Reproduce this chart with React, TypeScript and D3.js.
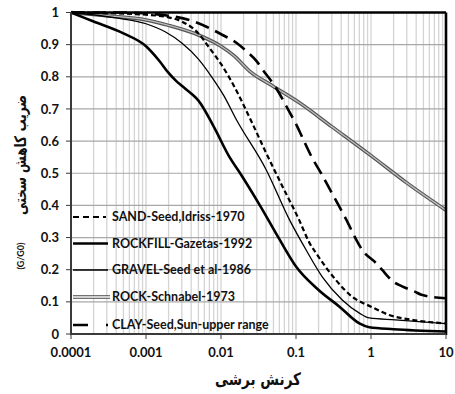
import React from "react";
import * as d3 from "d3";

// Shear modulus reduction curves (G/G0 vs shear strain %)
const sandStrain = [0.0001, 0.0003, 0.001, 0.002, 0.003, 0.005, 0.007, 0.01, 0.015, 0.025, 0.04, 0.066, 0.11, 0.15, 0.2, 0.34, 0.56, 1, 1.75, 3.5, 10];
const sandG = [1.0, 0.998, 0.993, 0.985, 0.972, 0.935, 0.89, 0.84, 0.77, 0.665, 0.563, 0.459, 0.355, 0.285, 0.24, 0.168, 0.116, 0.085, 0.059, 0.044, 0.033];

const rockfillStrain = [0.0001, 0.0002, 0.0005, 0.001, 0.0015, 0.002, 0.0025, 0.003, 0.004, 0.005, 0.008, 0.013, 0.018, 0.033, 0.06, 0.1, 0.2, 0.38, 0.7, 0.95, 2, 10];
const rockfillG = [1.0, 0.972, 0.935, 0.895, 0.85, 0.812, 0.788, 0.772, 0.748, 0.726, 0.645, 0.55, 0.5, 0.4, 0.295, 0.21, 0.137, 0.085, 0.033, 0.021, 0.015, 0.008];

const gravelStrain = [0.0001, 0.0004, 0.001, 0.0018, 0.003, 0.005, 0.0075, 0.011, 0.016, 0.04, 0.082, 0.136, 0.224, 0.414, 0.7, 0.95, 2.1, 10];
const gravelG = [1.0, 0.983, 0.965, 0.94, 0.905, 0.855, 0.8, 0.74, 0.667, 0.511, 0.355, 0.262, 0.178, 0.106, 0.065, 0.05, 0.044, 0.032];

const rockStrain = [0.0001, 0.0003, 0.001, 0.002, 0.005, 0.01, 0.015, 0.024, 0.05, 0.11, 0.3, 1, 3, 10];
const rockG = [1.0, 0.99, 0.977, 0.96, 0.93, 0.895, 0.865, 0.818, 0.77, 0.72, 0.645, 0.555, 0.47, 0.385];

const clayStrain = [0.0001, 0.0005, 0.001, 0.002, 0.004, 0.0065, 0.0105, 0.016, 0.022, 0.03, 0.036, 0.054, 0.082, 0.104, 0.12, 0.164, 0.216, 0.32, 0.47, 0.63, 0.76, 1.16, 1.4, 2.0, 2.6, 3.9, 4.7, 10];
const clayG = [1.0, 1.0, 0.997, 0.99, 0.975, 0.955, 0.93, 0.906, 0.879, 0.848, 0.822, 0.766, 0.69, 0.645, 0.614, 0.548, 0.5, 0.427, 0.355, 0.295, 0.262, 0.221, 0.2, 0.162, 0.148, 0.131, 0.122, 0.111];

const xTicks = [0.0001, 0.001, 0.01, 0.1, 1, 10];
const xTickLabels = ["0.0001", "0.001", "0.01", "0.1", "1", "10"];
const yTicks = [0, 0.1, 0.2, 0.3, 0.4, 0.5, 0.6, 0.7, 0.8, 0.9, 1];
const yTickLabels = ["0", "0.1", "0.2", "0.3", "0.4", "0.5", "0.6", "0.7", "0.8", "0.9", "1"];

const legendLabels = [
  "SAND-Seed,Idriss-1970",
  "ROCKFILL-Gazetas-1992",
  "GRAVEL-Seed et al-1986",
  "ROCK-Schnabel-1973",
  "CLAY-Seed,Sun-upper range",
];

const yTitle = "ضریب کاهش سختی";
const yUnit = "(G/G0)";
const xTitle = "کرنش برشی";

const W = 455;
const H = 394;
const left = 71;
const right = 446;
const top = 12.5;
const bottom = 334;
const font = "Lato, 'Open Sans', sans-serif";
const arabicFont = "'DejaVu Sans', sans-serif";

// widths the Persian titles are fitted to
const xTitleLen = 86;
const yTitleLen = 120;

export default function App() {
  const x = d3.scaleLog().domain([0.0001, 10]).range([left, right]);
  const y = d3.scaleLinear().domain([0, 1]).range([bottom, top]);

  const line = (xs: number[], ys: number[]) =>
    d3
      .line<number>()
      .x((_, i) => x(xs[i]))
      .y((d) => y(d))
      .curve(d3.curveMonotoneX)(ys) as string;

  // minor grid: 1..9 within each decade
  const minor: number[] = [];
  for (let e = -4; e < 1; e++) {
    for (let k = 1; k <= 9; k++) minor.push(k * Math.pow(10, e));
  }
  minor.push(10);

  const legendY = [217, 243.5, 270, 297, 325];
  const lx0 = 73;
  const lx1 = 106;

  return (
    <svg width={W} height={H} style={{ position: "absolute", left: 0, top: 0 }}>
      <rect x={0} y={0} width={W} height={H} fill="#fff" />
      {/* vertical grid */}
      {minor.map((v, i) => (
        <line key={"v" + i} x1={x(v)} x2={x(v)} y1={top} y2={bottom} stroke="#d4d4d4" strokeWidth={1.3} />
      ))}
      {/* horizontal grid */}
      {yTicks.map((v, i) => (
        <line key={"h" + i} x1={left} x2={right} y1={y(v)} y2={y(v)} stroke="#a8a8a8" strokeWidth={1.2} />
      ))}

      {/* curves */}
      <path d={line(rockStrain, rockG)} fill="none" stroke="#555" strokeWidth={3.6} />
      <path d={line(rockStrain, rockG)} fill="none" stroke="#bdbdbd" strokeWidth={1.3} />
      <path d={line(clayStrain, clayG)} fill="none" stroke="#000" strokeWidth={2.6} strokeDasharray="14 7" />
      <path d={line(sandStrain, sandG)} fill="none" stroke="#000" strokeWidth={2.2} strokeDasharray="5 3" />
      <path d={line(gravelStrain, gravelG)} fill="none" stroke="#000" strokeWidth={1.3} />
      <path d={line(rockfillStrain, rockfillG)} fill="none" stroke="#000" strokeWidth={2.6} />

      {/* frame */}
      <line x1={left} x2={right} y1={top} y2={top} stroke="#000" strokeWidth={2.4} />
      <line x1={right} x2={right} y1={top} y2={bottom + 1} stroke="#000" strokeWidth={2.6} />
      <line x1={left - 1} x2={right} y1={bottom} y2={bottom} stroke="#3a3a3a" strokeWidth={2} />
      <line x1={left} x2={left} y1={top} y2={bottom + 1} stroke="#3a3a3a" strokeWidth={2} />

      {/* ticks */}
      {yTicks.map((v, i) => (
        <line key={"yt" + i} x1={left - 5} x2={left} y1={y(v)} y2={y(v)} stroke="#3a3a3a" strokeWidth={1} />
      ))}
      {xTicks.map((v, i) => (
        <line key={"xt" + i} x1={x(v)} x2={x(v)} y1={bottom} y2={bottom + 5} stroke="#3a3a3a" strokeWidth={1} />
      ))}

      {/* tick labels */}
      {yTicks.map((v, i) => (
        <text key={"yl" + i} x={59} y={y(v)} dy="0.35em" textAnchor="end" fontFamily={font} fontWeight={700} fontSize={13} fill="#111">
          {yTickLabels[i]}
        </text>
      ))}
      {xTicks.map((v, i) => (
        <text key={"xl" + i} x={x(v)} y={357} textAnchor="middle" fontFamily={font} fontWeight={700} fontSize={13} fill="#111">
          {xTickLabels[i]}
        </text>
      ))}

      {/* legend */}
      <line x1={lx0} x2={lx1} y1={legendY[0]} y2={legendY[0]} stroke="#000" strokeWidth={2} strokeDasharray="6 4" />
      <line x1={lx0} x2={lx1 + 2} y1={legendY[1]} y2={legendY[1]} stroke="#000" strokeWidth={2.6} />
      <line x1={lx0} x2={lx1 + 2} y1={legendY[2]} y2={legendY[2]} stroke="#000" strokeWidth={1.5} />
      <line x1={lx0} x2={lx1 + 4} y1={legendY[3]} y2={legendY[3]} stroke="#444" strokeWidth={3.6} />
      <line x1={lx0} x2={lx1 + 4} y1={legendY[3]} y2={legendY[3]} stroke="#fff" strokeWidth={1.4} />
      <line x1={lx0} x2={lx1 + 2} y1={legendY[4]} y2={legendY[4]} stroke="#000" strokeWidth={2.6} strokeDasharray="15 18" />
      {legendLabels.map((t, i) => (
        <text key={"lg" + i} x={112} y={legendY[i]} dy="0.35em" fontFamily={font} fontWeight={700} fontSize={12.5} fill="#111">
          {t}
        </text>
      ))}

      {/* axis titles */}
      <g transform="translate(26,155) rotate(-90)">
        <text
          x={-yTitleLen / 2}
          y={0}
          textLength={yTitleLen}
          lengthAdjust="spacingAndGlyphs"
          fontFamily={arabicFont}
          fontWeight={700}
          fontSize={16}
          fill="#111"
        >
          {yTitle}
        </text>
      </g>
      <text
        transform="translate(24,256) rotate(-90)"
        textAnchor="middle"
        fontFamily={font}
        fontWeight={700}
        fontSize={9}
        fill="#111"
      >
        {yUnit}
      </text>
      <text
        x={258 - xTitleLen / 2}
        y={385}
        textLength={xTitleLen}
        lengthAdjust="spacingAndGlyphs"
        fontFamily={arabicFont}
        fontWeight={700}
        fontSize={17}
        fill="#111"
      >
        {xTitle}
      </text>
    </svg>
  );
}
